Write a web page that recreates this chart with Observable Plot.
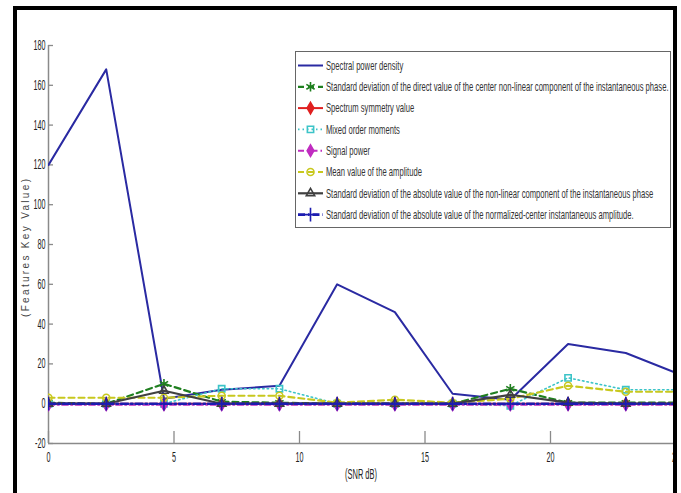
<!DOCTYPE html>
<html>
<head>
<meta charset="utf-8">
<script src="https://cdn.jsdelivr.net/npm/d3@7"></script>
<script src="https://cdn.jsdelivr.net/npm/@observablehq/plot@0.6"></script>
<style>
  body { margin: 0; background: #fff; }
  #wrap { position: relative; width: 681px; height: 493px; overflow: hidden; background: #fff; }
  #wrap svg { position: absolute; left: 0; top: 0; }
</style>
</head>
<body>
<div id="wrap"></div>
<script>
// ---- data ----
const snr = [0, 2.3, 4.6, 6.9, 9.2, 11.5, 13.8, 16.1, 18.4, 20.7, 23.0, 25.3];
const spectralPowerDensity = [120, 168, 2.5, 7, 9, 60, 46, 5, 2, 30, 25.5, 14];
const stdDirectPhase = [0.5, 0, 10, 1, 0.5, 0, 0, 0, 7.5, 0.5, 0.5, 0.5];
const spectrumSymmetry = [0, 0, 0, 0, 0, 0, 0, 0, 0, 0, 0, 0];
const mixedOrderMoments = [0, 0, 0, 7.5, 7.5, 0, 0, 0, -1, 13, 7, 7];
const signalPower = [-0.5, -0.5, -0.5, -0.5, -0.5, -0.5, -0.5, -0.5, -0.5, -0.5, -0.5, -0.5];
const meanAmplitude = [3, 3, 3, 4, 4, 0.5, 2, 0.5, 2.5, 9, 6, 6];
const stdAbsPhase = [0, 0, 6.5, 0, 0, 0, 0, 0, 4.5, 0.5, 0, 0];
const stdNormAmplitude = [0, 0, 0, 0, 0, 0, 0, 0, 0, 0, 0, 0];
const seriesNames = [
  "Spectral power density",
  "Standard deviation of the direct value of the center non-linear component of the instantaneous phase.",
  "Spectrum symmetry value",
  "Mixed order moments",
  "Signal power",
  "Mean value of the amplitude",
  "Standard deviation of the absolute value of the non-linear component of the instantaneous phase",
  "Standard deviation of the absolute value of the normalized-center instantaneous amplitude."
];
const xTicks = [0, 5, 10, 15, 20, 25];
const yTicks = [-20, 0, 20, 40, 60, 80, 100, 120, 140, 160, 180];
const xLabel = "(SNR dB)";
const yLabel = "(Features Key Value)";

// ---- styles ----
const seriesValues = [spectralPowerDensity, stdDirectPhase, spectrumSymmetry, mixedOrderMoments,
  signalPower, meanAmplitude, stdAbsPhase, stdNormAmplitude];
const styles = [
  {color: "#2a2aa2", dash: null, width: 2, symbol: null},
  {color: "#1f7f1f", dash: "6,4", width: 2.2, symbol: "asterisk", fill: "none", r: 4.5},
  {color: "#e02020", dash: null, width: 2, symbol: "diamond", fill: "#e02020", r: 3.5},
  {color: "#3cc4c8", dash: "1.5,3", width: 1.6, symbol: "square2", fill: "none", r: 4},
  {color: "#c02cc0", dash: "6,3,1.5,3", width: 2, symbol: "diamond", fill: "#c02cc0", r: 3.5},
  {color: "#c8c81e", dash: "6,4", width: 2.2, symbol: "circle", fill: "none", r: 3.5},
  {color: "#404040", dash: null, width: 2.2, symbol: "triangle2", fill: "none", r: 4},
  {color: "#1c1cb0", dash: "7,3,1.5,3", width: 2.6, symbol: "plus", fill: "none", r: 4.5}
];
const symbolMap = {
  asterisk: d3.symbolAsterisk, diamond: d3.symbolDiamond, square2: d3.symbolSquare2,
  circle: d3.symbolCircle, triangle2: d3.symbolTriangle2, plus: d3.symbolPlus
};

const W = 681, H = 493;
const mL = 48, mR = 5.5, mT = 45, mB = 50;
const plotW = W - mL - mR, plotH = H - mT - mB;

const marks = [
  Plot.ruleX([0], {stroke: "#8a8a8a", strokeWidth: 1.5}),
  Plot.ruleY([-20], {stroke: "#8a8a8a", strokeWidth: 1.5}),
  Plot.tickX(xTicks, {x: d => d, stroke: "#8a8a8a", strokeWidth: 1.3, insetTop: plotH - 12}),
  Plot.tickY(yTicks, {y: d => d, stroke: "#8a8a8a", strokeWidth: 1.3, insetRight: plotW - 5}),
  Plot.axisX({ticks: xTicks, tickSize: 0, tickPadding: 9, tickFormat: d => String(d), fill: "#222", label: null}),
  Plot.axisY({ticks: yTicks, tickSize: 0, tickPadding: 3, tickFormat: d => String(d), fill: "#222", label: null})
];
seriesValues.forEach((vals, i) => {
  const st = styles[i];
  const rows = snr.map((x, j) => ({x, y: vals[j]}));
  marks.push(Plot.line(rows, {x: "x", y: "y", stroke: st.color, strokeWidth: st.width,
    strokeDasharray: st.dash || undefined, clip: true}));
  if (st.symbol) {
    marks.push(Plot.dot(rows, {x: "x", y: "y", symbol: () => st.symbol, r: st.r,
      stroke: st.color, fill: st.fill, strokeWidth: 1.6, clip: true}));
  }
});

const chart = Plot.plot({
  width: W, height: H,
  marginLeft: mL, marginRight: mR, marginTop: mT, marginBottom: mB,
  style: {fontFamily: "'Liberation Sans', Arial, sans-serif", fontSize: "14px", background: "white"},
  x: {domain: [0, 25]},
  y: {domain: [-20, 180]},
  marks
});
const wrap = document.getElementById("wrap");
wrap.appendChild(chart);

// compress tick labels to the narrow look of the original (positions untouched)
function squeeze(el, s) {
  const w = el.getComputedTextLength();
  if (w > 0) {
    el.setAttribute("textLength", (w * s).toFixed(2));
    el.setAttribute("lengthAdjust", "spacingAndGlyphs");
  }
}
const yLabels = chart.querySelectorAll('g[aria-label="y-axis tick label"] text');
const xLabels = chart.querySelectorAll('g[aria-label="x-axis tick label"] text');
let ref = null;
yLabels.forEach(t => { if (t.textContent === "180") ref = t; });
const tickScale = ref ? 12 / ref.getComputedTextLength() : 0.5;
yLabels.forEach(t => squeeze(t, tickScale));
xLabels.forEach(t => squeeze(t, tickScale));

// ---- overlay: legend, axis titles, frame ----
const ov = d3.select(wrap).append("svg").attr("width", W).attr("height", H)
  .style("pointer-events", "none")
  .style("font-family", "'Liberation Sans', Arial, sans-serif");

// legend
const lg = ov.append("g");
lg.append("rect").attr("x", 295.5).attr("y", 51.5).attr("width", 375).attr("height", 176)
  .attr("fill", "white").attr("stroke", "#666").attr("stroke-width", 1);
const rowY0 = 65.5, rowDy = 21.3;
const texts = [];
seriesNames.forEach((name, i) => {
  const st = styles[i];
  const y = rowY0 + i * rowDy;
  lg.append("line").attr("x1", 298).attr("x2", 323).attr("y1", y).attr("y2", y)
    .attr("stroke", st.color).attr("stroke-width", st.width)
    .attr("stroke-dasharray", st.dash ? st.dash : null);
  if (st.symbol) {
    const area = Math.PI * st.r * st.r;
    lg.append("path").attr("d", d3.symbol(symbolMap[st.symbol], area)())
      .attr("transform", `translate(310.5,${y})`)
      .attr("fill", st.fill).attr("stroke", st.color).attr("stroke-width", 1.6);
  }
  const t = lg.append("text").attr("font-size", 12).attr("fill", "#333")
    .attr("dy", "0.35em").text(name);
  texts.push({t, y});
});
const longest = texts[1].t.node().getComputedTextLength();
const lgScale = 343 / longest;
texts.forEach(({t, y}) => t.attr("transform", `translate(326,${y}) scale(${lgScale},1)`));

// axis titles
ov.append("text").attr("transform", "translate(25,248) rotate(-90)")
  .attr("text-anchor", "middle").attr("dy", "0.35em").attr("font-size", 10)
  .attr("fill", "#444").attr("textLength", 138).attr("lengthAdjust", "spacing")
  .text(yLabel);
const xl = ov.append("text").attr("font-size", 14).attr("fill", "#222")
  .attr("text-anchor", "middle").attr("dy", "0.35em").text(xLabel);
const xlScale = 32 / xl.node().getComputedTextLength();
xl.attr("transform", `translate(361,474) scale(${xlScale},1)`);

// image frame
ov.append("rect").attr("x", 677).attr("y", 0).attr("width", 4).attr("height", H).attr("fill", "white");
ov.append("rect").attr("x", 13).attr("y", 6).attr("width", 4).attr("height", H - 6).attr("fill", "#000");
ov.append("rect").attr("x", 13).attr("y", 6).attr("width", 664).attr("height", 4).attr("fill", "#000");
ov.append("rect").attr("x", 673).attr("y", 6).attr("width", 4).attr("height", H - 6).attr("fill", "#000");
</script>
</body>
</html>
